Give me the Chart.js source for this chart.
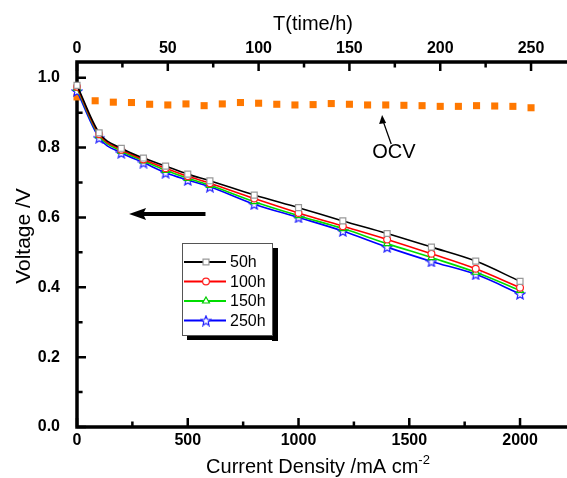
<!DOCTYPE html>
<html>
<head>
<meta charset="utf-8">
<script src="https://cdn.jsdelivr.net/npm/chart.js@4.4.1/dist/chart.umd.min.js"></script>
<style>
  html, body { margin: 0; padding: 0; background: #fff; }
</style>
</head>
<body>
<canvas id="myChart" width="567" height="478"></canvas>
<script>
// current density (mA cm-2) for the polarisation curves
var currentDensity = [0, 100, 200, 300, 400, 500, 600, 800, 1000, 1200, 1400, 1600, 1800, 2000];
var volt50h  = [0.978, 0.842, 0.798, 0.770, 0.747, 0.724, 0.705, 0.664, 0.628, 0.590, 0.554, 0.515, 0.475, 0.417];
var volt100h = [0.974, 0.838, 0.794, 0.766, 0.741, 0.718, 0.698, 0.654, 0.613, 0.575, 0.537, 0.496, 0.453, 0.399];
var volt150h = [0.970, 0.834, 0.790, 0.762, 0.735, 0.712, 0.692, 0.645, 0.605, 0.568, 0.525, 0.485, 0.443, 0.391];
var volt250h = [0.962, 0.828, 0.785, 0.757, 0.728, 0.707, 0.688, 0.638, 0.600, 0.561, 0.515, 0.474, 0.437, 0.381];

// open circuit voltage against time (top axis)
var ocvTime = [0, 10, 20, 30, 40, 50, 60, 70, 80, 90, 100, 110, 120, 130, 140, 150, 160, 170, 180, 190, 200, 210, 220, 230, 240, 250];
var ocvVolt = [0.945, 0.934, 0.930, 0.929, 0.924, 0.922, 0.925, 0.920, 0.925, 0.929, 0.927, 0.924, 0.922, 0.923, 0.926, 0.924,
               0.922, 0.922, 0.921, 0.920, 0.918, 0.918, 0.920, 0.919, 0.918, 0.914];

var seriesLabels = ['50h', '100h', '150h', '250h'];

// tick labels (major) and the minor ticks between them
var xTicks = [0, 500, 1000, 1500, 2000];
var xMinor = [250, 750, 1250, 1750];
var x2Ticks = [0, 50, 100, 150, 200, 250];
var x2Minor = [25, 75, 125, 175, 225];
var yTicks = [0, 0.2, 0.4, 0.6, 0.8, 1.0];
var yMinor = [0.1, 0.3, 0.5, 0.7, 0.9];

// axis ranges (the right side of the original is cut off)
var xMax = 2212, x2Max = 269.8, yMax = 1.045;

var FONT = '"Liberation Sans", Arial, sans-serif';

function starImage(color) {
	var c = document.createElement('canvas');
	c.width = 12; c.height = 12;
	var g = c.getContext('2d');
	g.beginPath();
	for (var i = 0; i < 10; i++) {
		var r = i % 2 ? 2.3 : 5.2, a = -Math.PI / 2 + i * Math.PI / 5;
		g.lineTo(6 + r * Math.cos(a), 6.6 + r * Math.sin(a));
	}
	g.closePath();
	g.fillStyle = '#fff'; g.fill();
	g.strokeStyle = color; g.lineWidth = 1.2; g.stroke();
	return c;
}

function pairs(xs, ys) {
	return xs.map(function(x, i) { return {x: x, y: ys[i]}; });
}

function curve(label, ys, color, markColor, style, radius) {
	return {
		label: label,
		data: pairs(currentDensity, ys),
		xAxisID: 'x',
		borderColor: color,
		borderWidth: 1.6,
		pointStyle: style,
		pointRadius: radius,
		pointBorderColor: markColor,
		pointBackgroundColor: '#fff',
		pointBorderWidth: 1.2,
		cubicInterpolationMode: 'monotone',
		clip: false
	};
}

// axis frame and inward tick marks as plain black line datasets
function frameLine(label, axis, data, width) {
	return {
		label: label,
		data: data,
		xAxisID: axis,
		borderColor: '#000',
		borderWidth: width,
		borderCapStyle: 'butt',
		pointRadius: 0,
		pointHoverRadius: 0,
		tension: 0,
		spanGaps: false,
		clip: false
	};
}

function tickSegments(values, minorValues, make) {
	var out = [];
	values.forEach(function(v) { out = out.concat(make(v, 1)); });
	minorValues.forEach(function(v) { out = out.concat(make(v, 0.62)); });
	return out;
}

var xPerPx = xMax / 490, x2PerPx = x2Max / 490, yPerPx = yMax / 365;

var frameBox = frameLine('frame', 'x', [
	{x: xMax, y: yMax}, {x: 0, y: yMax}, {x: 0, y: 0}, {x: xMax, y: 0}
], 3.5);
var yTickMarks = frameLine('yticks', 'x', tickSegments(yTicks, yMinor, function(v, k) {
	return [{x: 0, y: v}, {x: 9 * k * xPerPx, y: v}, {x: 9 * k * xPerPx, y: null}];
}), 2.5);
var xTickMarks = frameLine('xticks', 'x', tickSegments(xTicks, xMinor, function(v, k) {
	return [{x: v, y: 0}, {x: v, y: 9 * k * yPerPx}, {x: v, y: null}];
}), 2.5);
var x2TickMarks = frameLine('x2ticks', 'x2', tickSegments(x2Ticks, x2Minor, function(v, k) {
	return [{x: v, y: yMax}, {x: v, y: yMax - 9 * k * yPerPx}, {x: v, y: null}];
}), 2.5);

function fixTicks(values) {
	return function(scale) {
		scale.ticks = values.map(function(v) { return {value: v}; });
	};
}

// titles, notes and the boxed legend
var decor = {
	id: 'decor',
	afterDraw: function(chart) {
		var ctx = chart.ctx;
		var sx = chart.scales.x, sx2 = chart.scales.x2, sy = chart.scales.y;
		ctx.save();
		ctx.fillStyle = '#000';

		// axis titles
		ctx.textBaseline = 'alphabetic';
		ctx.textAlign = 'left';
		var main = 'Current Density /mA cm';
		ctx.font = '13px ' + FONT;
		var supW = ctx.measureText('-2').width;
		ctx.font = '20px ' + FONT;
		var w = ctx.measureText(main).width + supW;
		var x0 = 318 - w / 2;
		ctx.fillText(main, x0, 473);
		ctx.font = '13px ' + FONT;
		ctx.fillText('-2', x0 + w - supW, 464);

		ctx.font = '20px ' + FONT;
		ctx.textAlign = 'center'; ctx.textBaseline = 'middle';
		ctx.fillText('T(time/h)', 313, 24);

		ctx.save();
		ctx.translate(24, 236);
		ctx.rotate(-Math.PI / 2);
		ctx.font = '21px ' + FONT;
		ctx.fillText('Voltage /V', 0, 0);
		ctx.restore();

		// big arrow: curves belong to bottom axis
		var ay = sy.getPixelForValue(0.61);
		var ax1 = sx.getPixelForValue(580), ax2 = sx.getPixelForValue(235);
		ctx.strokeStyle = '#000';
		ctx.lineWidth = 4;
		ctx.beginPath(); ctx.moveTo(ax1, ay); ctx.lineTo(ax2 + 12, ay); ctx.stroke();
		ctx.beginPath();
		ctx.moveTo(ax2, ay); ctx.lineTo(ax2 + 17, ay - 6); ctx.lineTo(ax2 + 14, ay); ctx.lineTo(ax2 + 17, ay + 6);
		ctx.closePath(); ctx.fill();

		// OCV note
		var ox = sx2.getPixelForValue(173), oy = sy.getPixelForValue(0.81);
		var tx = sx2.getPixelForValue(168), ty = sy.getPixelForValue(0.893);
		ctx.lineWidth = 1.3;
		ctx.beginPath(); ctx.moveTo(ox, oy); ctx.lineTo(tx + 1, ty + 6); ctx.stroke();
		ctx.beginPath();
		ctx.moveTo(tx, ty); ctx.lineTo(tx - 3, ty + 9); ctx.lineTo(tx + 4, ty + 8);
		ctx.closePath(); ctx.fill();
		ctx.font = '20px ' + FONT;
		ctx.fillText('OCV', sx2.getPixelForValue(174.5), sy.getPixelForValue(0.787));

		// legend box with drop shadow
		var lx = 182, ly = 243, lw = 90, lh = 92;
		ctx.fillRect(lx + lw, ly + 5, 6, lh + 1);
		ctx.fillRect(lx + 5, ly + lh, lw + 1, 5);
		ctx.fillStyle = '#fff';
		ctx.fillRect(lx, ly, lw, lh);
		ctx.strokeStyle = '#555';
		ctx.lineWidth = 1;
		ctx.strokeRect(lx + 0.5, ly + 0.5, lw, lh);
		ctx.font = '16px ' + FONT;
		ctx.textAlign = 'left';
		chart.data.datasets.forEach(function(ds, i) {
			if (seriesLabels.indexOf(ds.label) < 0) return;
			var yy = ly + 19 + i * 19.5;
			ctx.strokeStyle = ds.borderColor;
			ctx.lineWidth = 2;
			ctx.beginPath(); ctx.moveTo(lx + 2, yy); ctx.lineTo(lx + 44, yy); ctx.stroke();
			ctx.fillStyle = '#fff';
			ctx.strokeStyle = ds.pointBorderColor;
			ctx.lineWidth = 1.2;
			Chart.helpers.drawPoint(ctx, {pointStyle: ds.pointStyle, radius: ds.pointRadius, rotation: 0, borderWidth: 1.2}, lx + 24, yy);
			ctx.fillStyle = '#000';
			ctx.textBaseline = 'middle';
			ctx.fillText(ds.label, lx + 48, yy + 1);
		});
		ctx.restore();
	}
};

var tickFont = { family: FONT, size: 16, weight: 'bold' };

var chart = new Chart(document.getElementById('myChart').getContext('2d'), {
	type: 'line',
	data: {
		datasets: [
			curve('50h', volt50h, '#000000', '#999999', 'rect', 4.2),
			curve('100h', volt100h, '#ff0000', '#ff2020', 'circle', 3.4),
			curve('150h', volt150h, '#00dd00', '#00cc00', 'triangle', 4),
			curve('250h', volt250h, '#0000ff', '#0000ff', starImage('#2020ff'), 5),
			{
				label: 'OCV',
				data: pairs(ocvTime, ocvVolt),
				xAxisID: 'x2',
				showLine: false,
				pointStyle: 'rect',
				pointRadius: 5,
				pointBorderWidth: 0,
				pointBackgroundColor: '#ff7800',
				pointBorderColor: '#ff7800',
				clip: false
			},
			x2TickMarks,
			xTickMarks,
			yTickMarks,
			frameBox
		]
	},
	plugins: [decor],
	options: {
		responsive: false,
		animation: false,
		layout: { autoPadding: false },
		plugins: { legend: { display: false }, tooltip: { enabled: false } },
		scales: {
			x: {
				type: 'linear', position: 'bottom', min: 0, max: xMax,
				grid: { display: false, drawTicks: false, tickLength: 0 }, border: { display: false },
				afterBuildTicks: fixTicks(xTicks),
				afterFit: function(s) { s.height = 51; },
				ticks: {
					maxRotation: 0, autoSkip: false, padding: 4, color: '#000', font: tickFont,
					callback: function(v) { return String(v); }
				}
			},
			x2: {
				type: 'linear', position: 'top', min: 0, max: x2Max,
				grid: { display: false, drawTicks: false, tickLength: 0 }, border: { display: false },
				afterBuildTicks: fixTicks(x2Ticks),
				afterFit: function(s) { s.height = 62; },
				ticks: {
					maxRotation: 0, autoSkip: false, padding: 4, color: '#000', font: tickFont,
					callback: function(v) { return String(v); }
				}
			},
			y: {
				type: 'linear', position: 'left', min: 0, max: yMax,
				grid: { display: false, drawTicks: false, tickLength: 0 }, border: { display: false },
				afterBuildTicks: fixTicks(yTicks),
				afterFit: function(s) { s.width = 77; },
				ticks: {
					autoSkip: false, padding: 17, color: '#000', font: tickFont,
					callback: function(v) { return v.toFixed(1); }
				}
			}
		}
	}
});
</script>
</body>
</html>
